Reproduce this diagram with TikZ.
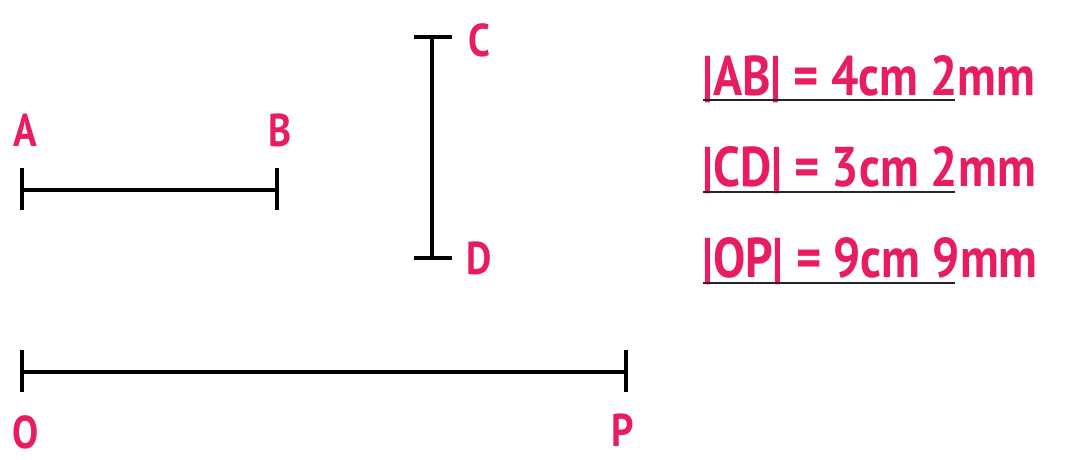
\documentclass[tikz,border=0pt]{standalone}
\usepackage{fontspec}
\setmainfont{PT Sans}
\begin{document}
\begin{tikzpicture}[x=1pt,y=-1pt,
  seg/.style={line width=4pt, black},
  lbl/.style={text=pink1, font=\bfseries\fontsize{46}{48}\selectfont, inner sep=0pt, xscale=0.85},
  eq/.style={text=pink1, font=\bfseries\fontsize{56}{58}\selectfont, inner sep=0pt, anchor=base west, xscale=0.86},
  uline/.style={line width=2pt, black!85}]
\definecolor{pink1}{RGB}{232,28,98}
\fill[white] (0,0) rectangle (1086,459);
\useasboundingbox (0,0) rectangle (1086,459);
% AB
\coordinate (A) at (22,190);
\coordinate (B) at (277,190);
\draw[seg] (A) -- (B);
\draw[seg] (22,168) -- (22,210);
\draw[seg] (277,168) -- (277,210);
\node[lbl] (lA) at (25,130) {A};
\node[lbl] (lB) at (280,130) {B};
% CD
\coordinate (C) at (432,37);
\coordinate (D) at (432,258);
\draw[seg] (C) -- (D);
\draw[seg] (414,37) -- (452,37);
\draw[seg] (414,258) -- (452,258);
\node[lbl] (lC) at (479,40) {C};
\node[lbl] (lD) at (479,258) {D};
% OP
\coordinate (O) at (22,372);
\coordinate (P) at (626,372);
\draw[seg] (O) -- (P);
\draw[seg] (22,350) -- (22,392);
\draw[seg] (626,350) -- (626,392);
\node[lbl] (lO) at (26,432) {O};
\node[lbl] (lP) at (623,430) {P};
% measurements
\node[eq] (e1) at (702,95) {|AB| = 4cm 2mm};
\node[eq] (e2) at (702,186) {|CD| = 3cm 2mm};
\node[eq] (e3) at (702,277) {|OP| = 9cm 9mm};
\draw[uline] (703,100) -- (955,100);
\draw[uline] (703,192) -- (955,192);
\draw[uline] (703,283) -- (955,283);
\end{tikzpicture}
\end{document}
